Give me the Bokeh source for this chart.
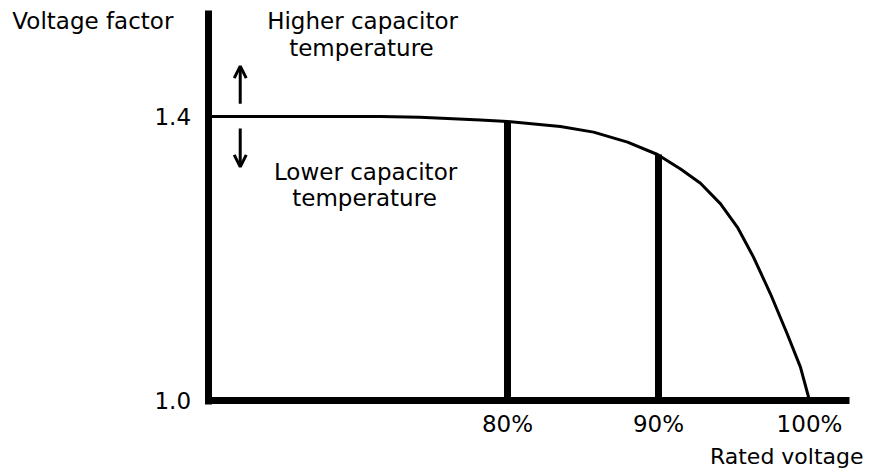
from bokeh.plotting import figure
from bokeh.models import Range1d, FixedTicker, Label, Arrow, OpenHead, LinearAxis
from bokeh.embed import file_html
from bokeh.resources import INLINE

# ---- data ----
curve_x = [60.17, 71.6, 74.2, 78.2, 80.0, 83.5, 85.7, 87.95, 89.93, 91.46, 92.78, 94.11,
           95.23, 96.29, 97.42, 98.52, 99.40, 100.0]
curve_y = [1.400, 1.400, 1.399, 1.395, 1.393, 1.386, 1.378, 1.364, 1.3465, 1.326, 1.306, 1.277,
           1.244, 1.202, 1.150, 1.094, 1.047, 1.000]
marker_x = [80, 90]
marker_top = [1.393, 1.3465]
x_ticks = [80, 90, 100]
x_tick_labels = ["80%", "90%", "100%"]
y_ticks = [1.0, 1.4]
y_tick_labels = ["1.0", "1.4"]

FONT = "DejaVu Sans"

p = figure(width=869, height=472, output_backend="svg", toolbar_location=None,
           x_axis_type=None, y_axis_type=None,
           x_range=Range1d(46.424, 103.974), y_range=Range1d(0.8986, 1.5634),
           min_border=0)
p.outline_line_color = None
p.grid.visible = False
p.background_fill_color = "white"
p.border_fill_color = "white"

yax = LinearAxis(fixed_location=60.17, bounds=(0.9944, 1.5493))
xax = LinearAxis(fixed_location=1.0, bounds=(60.0, 102.65))
for ax in (xax, yax):
    ax.axis_line_width = 7
    ax.axis_line_color = "black"
    ax.major_tick_line_color = None
    ax.minor_tick_line_color = None
    ax.major_tick_out = 0
    ax.major_tick_in = 0
    ax.major_label_text_font = FONT
    ax.major_label_text_font_size = "23px"
    ax.major_label_text_color = "black"

xax.ticker = FixedTicker(ticks=x_ticks)
xax.major_label_overrides = dict(zip(x_ticks, x_tick_labels))
xax.major_label_standoff = 10
yax.ticker = FixedTicker(ticks=y_ticks)
yax.major_label_overrides = dict(zip(y_ticks, y_tick_labels))
yax.major_label_standoff = 17
p.add_layout(yax, "left")
p.add_layout(xax, "below")

# vertical markers at 80% and 90%
p.segment(x0=marker_x, y0=[1.0] * len(marker_x), x1=marker_x, y1=marker_top,
          line_width=7, line_color="black")
# curve
p.line(curve_x, curve_y, line_width=3, line_color="black", line_join="round")

# arrows
p.add_layout(Arrow(end=OpenHead(size=12, line_width=3), x_start=62.3, y_start=1.418,
                   x_end=62.3, y_end=1.471, line_width=3))
p.add_layout(Arrow(end=OpenHead(size=12, line_width=3), x_start=62.3, y_start=1.383,
                   x_end=62.3, y_end=1.329, line_width=3))

def lab(x, y, text, align="center", size="23px"):
    p.add_layout(Label(x=x, y=y, text=text, text_align=align, text_baseline="middle",
                       text_font=FONT, text_font_size=size, text_color="black"))

lab(70.40, 1.534, "Higher capacitor")
lab(70.33, 1.4965, "temperature")
lab(70.60, 1.3217, "Lower capacitor")
lab(70.53, 1.2853, "temperature")
lab(47.21, 1.534, "Voltage factor", "left")
lab(103.58, 0.9211, "Rated voltage", "right", "22px")

open("out.html", "w").write(file_html(p, INLINE))
